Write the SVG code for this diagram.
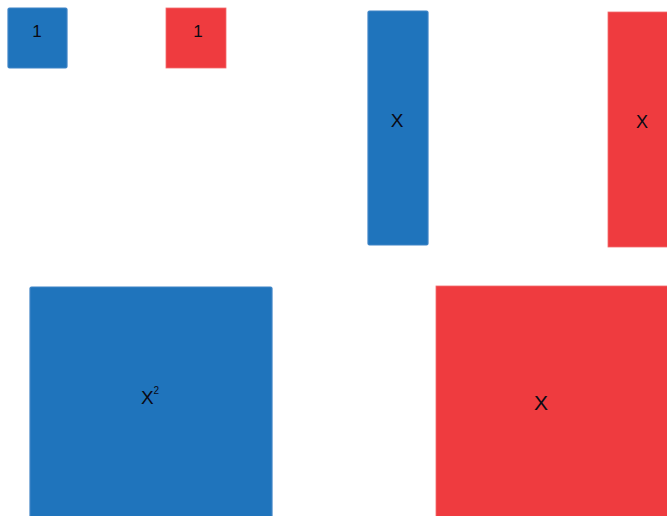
<svg xmlns="http://www.w3.org/2000/svg" width="667" height="516" viewBox="0 0 667 516">
<style>
.b{fill:#1F74BC;stroke:#3F84C6;stroke-width:1.2}
.r{fill:#EF3B3F;stroke:#F26B6E;stroke-width:0.8}
text{font-family:"Liberation Sans",Arial,sans-serif;fill:#0a0a14;text-anchor:middle;dominant-baseline:central}
</style>
<rect width="667" height="516" fill="#fff"/>
<g id="blue-1"><rect class="b" x="8" y="8" width="59" height="60" rx="1.5"/><text x="37" y="31" font-size="17">1</text></g>
<g id="red-1"><rect class="r" x="166" y="8" width="60" height="60"/><text x="198" y="31" font-size="17">1</text></g>
<g id="blue-x"><rect class="b" x="368" y="11" width="60" height="234" rx="1.5"/><text x="397" y="120" font-size="19">X</text></g>
<g id="red-x"><rect class="r" x="608" y="12" width="62" height="235"/><text x="642" y="122" font-size="18">X</text></g>
<g id="blue-x2"><rect class="b" x="30" y="287" width="242" height="232" rx="1.5"/><text x="150" y="397" font-size="19">X<tspan font-size="10" dy="-7">2</tspan></text></g>
<g id="red-x-big"><rect class="r" x="436" y="286" width="234" height="234"/><text x="541" y="402" font-size="21">X</text></g>
<g id="connectors"/>
</svg>
